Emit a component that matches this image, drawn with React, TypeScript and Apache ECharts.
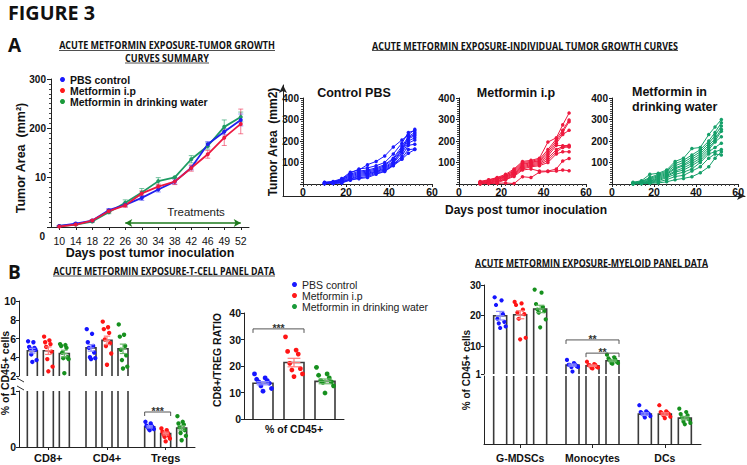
import React, { useEffect, useRef } from 'react';
import * as echarts from 'echarts';

const FF = "'Liberation Sans', Arial, Helvetica, sans-serif";
const TF = "'Open Sans', 'Noto Sans', sans-serif";

// ---------------- Panel A : summary growth curves ----------------
const GROUPS = ['PBS control', 'Metformin i.p', 'Metformin in drinking water'];
const DAYS = ['10', '14', '18', '22', '26', '30', '34', '38', '42', '46', '49', '52'];
const SEG_TICKS = [0, 10, 200, 300];
const PBS_MEAN = [0.2, 0.7, 1.3, 3.4, 4.5, 5.9, 7.6, 9.2, 48, 139, 187, 217];
const PBS_SEM = [0.1, 0.2, 0.2, 0.3, 0.4, 0.5, 0.5, 0.5, 8, 10, 12, 12];
const IP_MEAN = [0.1, 0.5, 1.3, 3.2, 4.4, 6.8, 8.2, 9.2, 47, 100, 164, 209];
const IP_SEM = [0.1, 0.1, 0.2, 0.3, 0.4, 0.5, 0.5, 0.6, 12, 15, 30, 30];
const WATER_MEAN = [0.2, 0.5, 1.1, 3.0, 4.9, 7.0, 9.3, 11.3, 81, 132, 203, 223];
const WATER_SEM = [0.1, 0.1, 0.2, 0.3, 0.6, 0.8, 0.8, 0.6, 14, 12, 14, 10];
const TREAT_START = '26';
const TREAT_END = '52';

// ---------------- Panel A : individual curves ----------------
const IND_DAYS = [10, 14, 18, 22, 26, 30, 34, 38, 42, 46, 49, 52];
const PBS_MICE = [
  [8, 12, 25, 55, 65, 90, 105, 130, 172, 205, 228, 254],
  [7, 10, 22, 50, 70, 75, 85, 100, 140, 190, 240, 248],
  [6, 9, 20, 45, 60, 65, 75, 90, 120, 175, 220, 240],
  [5, 8, 18, 40, 55, 60, 70, 85, 115, 165, 215, 232],
  [4, 7, 15, 35, 50, 55, 65, 80, 105, 160, 210, 225],
  [3, 6, 12, 30, 45, 50, 60, 75, 100, 155, 200, 215],
  [3, 5, 10, 25, 40, 45, 58, 70, 95, 145, 190, 205],
  [2, 4, 8, 22, 35, 40, 55, 65, 90, 130, 180, 185],
  [2, 3, 6, 20, 28, 35, 50, 60, 88, 120, 160, 163],
  [1, 2, 5, 18, 25, 30, 45, 58, 85, 115, 143, 160],
];
const IP_MICE = [
  [12, 20, 30, 45, 70, 105, 110, 120, 195, 215, 275, 330],
  [10, 18, 28, 40, 65, 100, 105, 115, 160, 210, 250, 298],
  [8, 15, 25, 38, 60, 95, 100, 110, 150, 200, 240, 290],
  [6, 12, 22, 35, 55, 90, 100, 105, 140, 190, 230, 250],
  [5, 10, 20, 32, 50, 85, 95, 100, 130, 180, 178, 180],
  [4, 8, 15, 30, 48, 80, 90, 95, 120, 160, 175, 176],
  [3, 6, 12, 25, 45, 75, 85, 90, 110, 150, 170, 172],
  [2, 5, 10, 22, 40, 70, 80, 85, 100, 140, 150, 150],
  [1, 3, 5, 20, 35, 65, 70, 60, 60, 70, 107, 119],
  [0, 2, 3, 5, 2, 34, 30, 55, 58, 60, 65, 62],
];
const WATER_MICE = [
  [8, 15, 45, 50, 65, 105, 120, 165, 170, 230, 265, 300],
  [6, 12, 30, 45, 60, 95, 110, 135, 160, 200, 240, 285],
  [5, 10, 25, 40, 55, 85, 100, 125, 150, 190, 225, 270],
  [4, 8, 20, 35, 50, 75, 90, 115, 140, 180, 210, 255],
  [3, 6, 15, 30, 45, 70, 85, 105, 130, 170, 200, 245],
  [2, 5, 12, 25, 40, 60, 75, 95, 120, 160, 195, 220],
  [2, 4, 10, 20, 35, 55, 65, 85, 110, 150, 170, 190],
  [1, 3, 8, 15, 30, 45, 55, 70, 100, 140, 150, 160],
  [1, 2, 5, 10, 20, 35, 40, 60, 80, 120, 140, 135],
  [0, 1, 3, 5, 10, 20, 26, 34, 52, 80, 120, 150],
];

// ---------------- Panel B : T-cell panel ----------------
const TCELL_CATS = ['CD8+', 'CD4+', 'Tregs'];
const TCELL_PBS_MEAN = [4.7, 5.0, 0.36];
const TCELL_IP_MEAN = [4.7, 5.8, 0.24];
const TCELL_WATER_MEAN = [4.4, 4.9, 0.34];
const TCELL_PBS_SEM = [0.25, 0.35, 0.02];
const TCELL_IP_SEM = [0.4, 0.45, 0.025];
const TCELL_WATER_SEM = [0.35, 0.5, 0.04];
const TCELL_PBS_DOTS = [
  [5.7, 5.6, 5.1, 5.0, 4.9, 4.8, 4.3, 3.7, 3.5],
  [7.0, 6.5, 5.6, 5.2, 5.0, 4.5, 4.0, 3.9, 3.8],
  [0.45, 0.42, 0.38, 0.37, 0.36, 0.35, 0.33, 0.32, 0.3],
];
const TCELL_IP_DOTS = [
  [6.2, 5.8, 5.6, 5.4, 5.1, 4.6, 3.8, 3.0, 2.5],
  [7.8, 7.2, 7.0, 6.6, 5.9, 5.5, 5.2, 4.4, 3.2],
  [0.33, 0.3, 0.27, 0.25, 0.22, 0.2, 0.18, 0.15, 0.1],
];
const TCELL_WATER_DOTS = [
  [5.4, 5.3, 5.2, 5.0, 4.5, 4.0, 3.9, 3.8, 2.3],
  [7.5, 6.4, 6.2, 5.2, 4.8, 4.2, 3.7, 3.0, 2.8],
  [0.55, 0.45, 0.42, 0.4, 0.35, 0.3, 0.25, 0.2, 0.12],
];
const TCELL_SIG = [[2, 0, 2, 1, 0.625]];
const TCELL_SIG_TEXT = ['***'];

// ---------------- Panel B : CD8/Treg ratio ----------------
const RATIO_CATS = ['% of CD45+'];
const RATIO_PBS_MEAN = [13.5];
const RATIO_IP_MEAN = [21.3];
const RATIO_WATER_MEAN = [14.2];
const RATIO_PBS_SEM = [0.6];
const RATIO_IP_SEM = [1.6];
const RATIO_WATER_SEM = [0.9];
const RATIO_PBS_DOTS = [[17, 15.5, 15, 14.5, 14, 13.5, 12.5, 11.5, 10.5]];
const RATIO_IP_DOTS = [[31, 26, 25.5, 24.5, 21, 19, 18.5, 17, 16]];
const RATIO_WATER_DOTS = [[19.5, 17, 16.5, 15.5, 14.5, 14, 13.8, 12.5, 9.8]];
const RATIO_SIG = [[0, 0, 0, 1, 34]];
const RATIO_SIG_TEXT = ['***'];

// ---------------- Panel B : myeloid panel ----------------
const MYE_CATS = ['G-MDSCs', 'Monocytes', 'DCs'];
const MYE_TICKS = [1, 10, 20, 30];
const MYE_PBS_MEAN = [20.0, 3.9, 0.44];
const MYE_IP_MEAN = [20.3, 3.7, 0.44];
const MYE_WATER_MEAN = [22.2, 5.3, 0.38];
const MYE_PBS_SEM = [1.4, 0.35, 0.02];
const MYE_IP_SEM = [1.3, 0.25, 0.02];
const MYE_WATER_SEM = [1.2, 0.3, 0.025];
const MYE_PBS_DOTS = [
  [26, 25, 23.5, 20.5, 19, 18, 17.5, 16.5, 16],
  [5.6, 4.8, 4.4, 4.1, 4.0, 3.8, 3.6, 3.3, 1.8],
  [0.57, 0.48, 0.47, 0.46, 0.45, 0.44, 0.43, 0.41, 0.39],
];
const MYE_IP_DOTS = [
  [24.5, 24, 23.5, 22, 21, 20.5, 19, 12.8, 12.3],
  [5.0, 4.6, 4.3, 4.0, 3.8, 3.6, 3.4, 3.1, 2.8],
  [0.57, 0.48, 0.47, 0.46, 0.45, 0.44, 0.42, 0.4, 0.38],
];
const MYE_WATER_DOTS = [
  [28.5, 27.5, 23.8, 22.8, 22, 21.5, 21, 18.8, 16.2],
  [7.3, 6.8, 6.3, 5.8, 5.5, 5.2, 4.9, 4.6, 4.4],
  [0.52, 0.47, 0.44, 0.42, 0.39, 0.36, 0.33, 0.31, 0.29],
];
const MYE_SIG = [[1, 0, 1, 2, 12.1], [1, 1, 1, 2, 7.8]];
const MYE_SIG_TEXT = ['**', '**'];

// ---------------- styles ----------------
const A_COLORS = ['#1f1fef', '#ec1840', '#1e9b63'];
const A_ERR = ['rgba(70,70,240,0.6)', 'rgba(236,24,64,0.55)', 'rgba(30,155,99,0.6)'];
const IND_COLORS = ['#1a1aff', '#ee1a3f', '#16a06a'];
const LEG_COLORS = ['#1a1aff', '#ff1a1a', '#1a9a3a'];
const B_COLORS = ['#1515ff', '#ff1515', '#16901e'];
const B_ERR = ['#8c8cff', '#ff7a7a', '#6ab86a'];

function toSeg(v: number): number {
  for (let i = 0; i < SEG_TICKS.length - 1; i++) {
    if (v <= SEG_TICKS[i + 1]) return i + (v - SEG_TICKS[i]) / (SEG_TICKS[i + 1] - SEG_TICKS[i]);
  }
  return SEG_TICKS.length - 1;
}

function measure(text: string, font: string): number {
  const ctx = document.createElement('canvas').getContext('2d');
  if (!ctx) return text.length * 6;
  ctx.font = font;
  return ctx.measureText(text).width || text.length * 6;
}

const ln = (x1: number, y1: number, x2: number, y2: number, stroke: string, w = 1) => ({
  type: 'line', shape: { x1, y1, x2, y2 }, style: { stroke, lineWidth: w },
});

function txt(text: string, x: number, y: number, size: number, o: any = {}) {
  const align = o.align || 'center';
  return {
    type: 'text', x, y, rotation: o.rotation || 0, scaleX: o.scaleX || 1, z: 100, silent: true,
    style: {
      text, fontFamily: o.family || FF, fontSize: size, fontWeight: o.weight || 'bold',
      fill: o.fill || '#111', textAlign: align, textVerticalAlign: 'middle', align, verticalAlign: 'middle',
    },
  };
}

function fitted(text: string, x: number, y: number, w: number, size: number, ul: number | null, align = 'center') {
  const nat = measure(text, `bold ${size}px ${TF}`);
  const els: any[] = [txt(text, x, y, size, { family: TF, scaleX: w / nat, align })];
  if (ul != null) {
    const x1 = align === 'center' ? x - w / 2 : x;
    els.push({ type: 'line', z: 100, silent: true, shape: { x1, y1: ul, x2: x1 + w, y2: ul }, style: { stroke: '#222', lineWidth: 0.8 } });
  }
  return els;
}

// ---------- custom renderers ----------
function segErrRenderer(color: string) {
  return (params: any, api: any) => {
    const i = api.value(0);
    const lo = api.coord([i, api.value(1)]);
    const hi = api.coord([i, api.value(2)]);
    const c = 2.5;
    return {
      type: 'group',
      children: [ln(lo[0], lo[1], hi[0], hi[1], color), ln(lo[0] - c, lo[1], lo[0] + c, lo[1], color), ln(hi[0] - c, hi[1], hi[0] + c, hi[1], color)],
    };
  };
}

type BarLayout = { offsets: number[]; width: number; r: number };
const OUT = '#3a3a3a';

function barRenderer(L: BarLayout, g: number) {
  return (params: any, api: any) => {
    const cs = params.coordSys;
    const cat = api.value(0);
    const p = api.coord([cat, api.value(1)]);
    const b = api.coord([cat, 0]);
    const yMin = cs.y, yMax = cs.y + cs.height;
    if (p[1] >= yMax - 0.01) return null;
    const cx = p[0] + L.offsets[g];
    const l = cx - L.width / 2, r = cx + L.width / 2;
    const top = Math.max(p[1], yMin);
    const bot = Math.min(b[1], yMax);
    const clipped = p[1] < yMin;
    const children: any[] = [{ type: 'rect', shape: { x: l, y: top, width: L.width, height: bot - top }, style: { fill: '#fff' } }];
    if (clipped) {
      children.push(ln(l, top, l, bot, OUT, 1.6), ln(r, top, r, bot, OUT, 1.6));
    } else {
      children.push({ type: 'polyline', shape: { points: [[l, bot], [l, top], [r, top], [r, bot]] }, style: { stroke: OUT, lineWidth: 1.6, fill: 'none' } });
    }
    return { type: 'group', children };
  };
}

function dotRenderer(L: BarLayout, g: number, color: string) {
  return (params: any, api: any) => {
    const cs = params.coordSys;
    const p = api.coord([api.value(0), api.value(1)]);
    if (p[1] < cs.y - 0.5 || p[1] > cs.y + cs.height + 0.5) return null;
    const k = api.value(2);
    const jitter = (((k * 5) % 9) / 8 - 0.5) * L.width * 0.85;
    return { type: 'circle', shape: { cx: p[0] + L.offsets[g] + jitter, cy: p[1], r: L.r }, style: { fill: color } };
  };
}

function errRenderer(L: BarLayout, g: number, color: string) {
  return (params: any, api: any) => {
    const cs = params.coordSys;
    const cat = api.value(0), m = api.value(1), e = api.value(2);
    const pm = api.coord([cat, m]);
    if (pm[1] < cs.y || pm[1] > cs.y + cs.height) return null;
    const ph = api.coord([cat, m + e]);
    const pl = api.coord([cat, m - e]);
    const cx = pm[0] + L.offsets[g];
    const c = L.width * 0.32;
    return {
      type: 'group',
      children: [ln(cx, pl[1], cx, ph[1], color, 1.2), ln(cx - c, ph[1], cx + c, ph[1], color, 1.2), ln(cx - c, pl[1], cx + c, pl[1], color, 1.2), ln(cx - c, pm[1], cx + c, pm[1], color, 1.2)],
    };
  };
}

function bracketRenderer(L: BarLayout, texts: string[]) {
  return (params: any, api: any) => {
    const a = api.coord([api.value(0), api.value(4)]);
    const b = api.coord([api.value(2), api.value(4)]);
    const x1 = a[0] + L.offsets[api.value(1)] - L.width / 2;
    const x2 = b[0] + L.offsets[api.value(3)] + L.width / 2;
    const y = a[1];
    return {
      type: 'group',
      children: [
        { type: 'polyline', shape: { points: [[x1, y + 4], [x1, y], [x2, y], [x2, y + 4]] }, style: { stroke: '#555', lineWidth: 1, fill: 'none' } },
        {
          type: 'text', x: (x1 + x2) / 2, y: y - 1,
          style: { text: texts[params.dataIndex], fill: '#333', fontSize: 10.5, fontWeight: 'bold', fontFamily: FF, textAlign: 'center', textVerticalAlign: 'middle', align: 'center', verticalAlign: 'middle' },
        },
      ],
    };
  };
}

function addBarGroups(series: any[], L: BarLayout, axisIdx: number[], means: number[][], sems: number[][], dots: number[][][], sig: number[][] | null, sigText: string[], sigAxis: number) {
  axisIdx.forEach((ai) => {
    for (let g = 0; g < 3; g++) {
      series.push({
        type: 'custom', xAxisIndex: ai, yAxisIndex: ai, renderItem: barRenderer(L, g), z: 2, silent: true,
        encode: { x: 0, y: 1 }, data: means[g].map((m, i) => [i, m]),
      });
    }
    for (let g = 0; g < 3; g++) {
      const d: number[][] = [];
      dots[g].forEach((arr, i) => arr.forEach((v, k) => d.push([i, v, k])));
      series.push({
        type: 'custom', name: GROUPS[g], xAxisIndex: ai, yAxisIndex: ai, renderItem: dotRenderer(L, g, B_COLORS[g]), z: 3, silent: true,
        encode: { x: 0, y: 1 }, data: d,
      });
    }
    for (let g = 0; g < 3; g++) {
      series.push({
        type: 'custom', xAxisIndex: ai, yAxisIndex: ai, renderItem: errRenderer(L, g, B_ERR[g]), z: 4, silent: true,
        encode: { x: 0, y: 1 }, data: means[g].map((m, i) => [i, m, sems[g][i]]),
      });
    }
    if (sig && ai === sigAxis) {
      series.push({
        type: 'custom', xAxisIndex: ai, yAxisIndex: ai, renderItem: bracketRenderer(L, sigText), z: 5, silent: true,
        encode: { x: 0, y: 4 }, data: sig,
      });
    }
  });
}

function buildOption(): any {
  const AX = { show: true, lineStyle: { color: '#222', width: 1 } };
  const lab = (size: number, extra: any = {}) => ({ fontFamily: FF, fontWeight: 'bold', fontSize: size, color: '#111', ...extra });
  const noSplit = { show: false };

  const grid = [
    { left: 51, top: 79, width: 198, height: 148 },
    { left: 303, top: 98, width: 129, height: 86 },
    { left: 459, top: 98, width: 127, height: 86 },
    { left: 612, top: 98, width: 128, height: 86 },
    { left: 283, top: 85, width: 462, height: 111 },
    { left: 19, top: 301, width: 176, height: 75 },
    { left: 19, top: 391, width: 176, height: 56 },
    { left: 244, top: 313, width: 100, height: 106 },
    { left: 484, top: 285, width: 217, height: 89 },
    { left: 484, top: 376, width: 217, height: 68 },
  ];

  const indX = (gi: number) => ({
    type: 'value', gridIndex: gi, min: 0, max: 60, interval: 20, axisLine: AX,
    axisTick: { show: true, length: 3, lineStyle: { color: '#222' } },
    minorTick: { show: true, splitNumber: 10, length: 2, lineStyle: { color: '#444' } },
    axisLabel: lab(10.5, { margin: 2 }), splitLine: noSplit, minorSplitLine: noSplit,
  });
  const indY = (gi: number) => ({
    type: 'value', gridIndex: gi, min: 0, max: 400, interval: 100, axisLine: AX,
    axisTick: { show: true, length: 3, lineStyle: { color: '#222' } },
    minorTick: { show: true, splitNumber: 10, length: 2, lineStyle: { color: '#444' } },
    axisLabel: lab(10, { margin: 4, formatter: (v: number) => (v === 0 ? '' : String(v)) }), splitLine: noSplit,
  });
  const hiddenCat = (gi: number, data: string[]) => ({ type: 'category', gridIndex: gi, data, show: false });
  const catAx = (gi: number, data: string[], size: number, margin: number, tickLen: number) => ({
    type: 'category', gridIndex: gi, data, axisLine: AX,
    axisTick: { show: tickLen > 0, alignWithLabel: true, length: tickLen, lineStyle: { color: '#222' } },
    axisLabel: lab(size, { margin, interval: 0 }), splitLine: noSplit,
  });
  const valAx = (gi: number, min: number, max: number, interval: number, size: number) => ({
    type: 'value', gridIndex: gi, min, max, interval, axisLine: AX,
    axisTick: { show: true, length: 3, lineStyle: { color: '#222' } },
    axisLabel: lab(size, { margin: 3 }), splitLine: noSplit,
  });
  const frame = (gi: number) => ({
    type: 'value', gridIndex: gi, min: 0, max: 1,
    axisLine: { show: true, symbol: ['none', 'arrow'], symbolSize: [6, 8], lineStyle: { color: '#222', width: 1 } },
    axisTick: { show: false }, axisLabel: { show: false }, splitLine: noSplit,
  });

  const xAxis = [
    {
      type: 'category', gridIndex: 0, data: DAYS, boundaryGap: true, axisLine: AX,
      axisTick: { show: true, alignWithLabel: true, length: 3, lineStyle: { color: '#222' } },
      axisLabel: { fontFamily: FF, fontSize: 10.5, color: '#111', margin: 8, interval: 0 }, splitLine: noSplit,
    },
    indX(1), indX(2), indX(3), frame(4),
    hiddenCat(5, TCELL_CATS), catAx(6, TCELL_CATS, 11, 5, 3),
    catAx(7, RATIO_CATS, 10.5, 4, 0),
    hiddenCat(8, MYE_CATS), catAx(9, MYE_CATS, 10.5, 8, 4),
  ];
  const yAxis = [
    {
      type: 'value', gridIndex: 0, min: 0, max: SEG_TICKS.length - 1, interval: 1, axisLine: AX,
      axisTick: { show: true, length: 4, lineStyle: { color: '#222' } },
      minorTick: { show: true, splitNumber: 10, length: 2, lineStyle: { color: '#444' } },
      axisLabel: lab(10, { margin: 5, formatter: (v: number) => (v === 0 ? '' : String(SEG_TICKS[Math.round(v)])) }),
      splitLine: noSplit, minorSplitLine: noSplit,
    },
    indY(1), indY(2), indY(3), frame(4),
    valAx(5, 2, 10, 2, 10.5), valAx(6, 0, 1, 1, 10.5),
    valAx(7, 0, 40, 10, 10.5),
    {
      type: 'value', gridIndex: 8, min: 1, max: 30, axisLine: AX,
      axisTick: { show: true, length: 3, customValues: MYE_TICKS, lineStyle: { color: '#222' } },
      axisLabel: lab(10, { margin: 3, customValues: MYE_TICKS }), splitLine: noSplit,
    },
    { type: 'value', gridIndex: 9, min: 0, max: 1, axisLine: AX, axisTick: { show: false }, axisLabel: { show: false }, splitLine: noSplit },
  ];

  const series: any[] = [];
  const A_MEANS = [PBS_MEAN, IP_MEAN, WATER_MEAN];
  const A_SEMS = [PBS_SEM, IP_SEM, WATER_SEM];
  const order = [2, 0, 1];
  order.forEach((g) => {
    series.push({
      type: 'custom', xAxisIndex: 0, yAxisIndex: 0, renderItem: segErrRenderer(A_ERR[g]), z: 2, silent: true,
      encode: { x: 0, y: [1, 2] },
      data: A_MEANS[g].map((m, i) => [i, toSeg(Math.max(0, m - A_SEMS[g][i])), toSeg(m + A_SEMS[g][i])]),
    });
  });
  order.forEach((g, n) => {
    const s: any = {
      type: 'line', name: GROUPS[g], xAxisIndex: 0, yAxisIndex: 0, data: A_MEANS[g].map(toSeg),
      symbol: 'circle', symbolSize: 4, lineStyle: { width: 1.8, color: A_COLORS[g] }, itemStyle: { color: A_COLORS[g] }, z: 3, silent: true,
    };
    if (n === 0) {
      s.markLine = {
        silent: true, symbol: ['arrow', 'arrow'], symbolSize: [6, 7],
        lineStyle: { color: '#1d7a1d', width: 1.5, type: 'solid' }, label: { show: false },
        data: [[{ coord: [TREAT_START, 0.08] }, { coord: [TREAT_END, 0.08] }]],
      };
    }
    series.push(s);
  });

  [PBS_MICE, IP_MICE, WATER_MICE].forEach((mice, g) => {
    mice.forEach((row, k) => {
      series.push({
        type: 'line', name: `${GROUPS[g]} #${k + 1}`, xAxisIndex: g + 1, yAxisIndex: g + 1,
        data: IND_DAYS.map((d, i) => [d, row[i]]), symbol: 'circle', symbolSize: 3.5, silent: true,
        lineStyle: { width: 1, color: IND_COLORS[g] }, itemStyle: { color: IND_COLORS[g] }, z: 3,
      });
    });
  });

  addBarGroups(series, { offsets: [-16, 0, 16], width: 10, r: 2.2 }, [5, 6],
    [TCELL_PBS_MEAN, TCELL_IP_MEAN, TCELL_WATER_MEAN], [TCELL_PBS_SEM, TCELL_IP_SEM, TCELL_WATER_SEM],
    [TCELL_PBS_DOTS, TCELL_IP_DOTS, TCELL_WATER_DOTS], TCELL_SIG, TCELL_SIG_TEXT, 6);
  addBarGroups(series, { offsets: [-31, 0, 31], width: 20, r: 2.4 }, [7],
    [RATIO_PBS_MEAN, RATIO_IP_MEAN, RATIO_WATER_MEAN], [RATIO_PBS_SEM, RATIO_IP_SEM, RATIO_WATER_SEM],
    [RATIO_PBS_DOTS, RATIO_IP_DOTS, RATIO_WATER_DOTS], RATIO_SIG, RATIO_SIG_TEXT, 7);
  addBarGroups(series, { offsets: [-20, 0, 20], width: 13, r: 2.1 }, [8, 9],
    [MYE_PBS_MEAN, MYE_IP_MEAN, MYE_WATER_MEAN], [MYE_PBS_SEM, MYE_IP_SEM, MYE_WATER_SEM],
    [MYE_PBS_DOTS, MYE_IP_DOTS, MYE_WATER_DOTS], MYE_SIG, MYE_SIG_TEXT, 8);

  const legendBase = { orient: 'vertical', itemWidth: 5, itemHeight: 5, itemGap: 0, icon: 'circle', padding: 0, selectedMode: false };
  const legend = [
    {
      ...legendBase, left: 60, top: 74,
      textStyle: { fontFamily: FF, fontWeight: 'bold', fontSize: 10.5, color: '#111', lineHeight: 10 },
      data: GROUPS.map((n, i) => ({ name: n, itemStyle: { color: LEG_COLORS[i] } })),
    },
    {
      ...legendBase, left: 292, top: 279,
      textStyle: { fontFamily: FF, fontSize: 10.5, color: '#222', lineHeight: 11 },
      data: GROUPS.map((n, i) => ({ name: n, itemStyle: { color: LEG_COLORS[i] } })),
    },
  ];

  const R = Math.PI / 2;
  const graphic = [
    ...fitted('FIGURE 3', 8, 12.5, 87, 20, null, 'left'),
    txt('A', 8, 45, 19, { family: TF, align: 'left' }),
    txt('B', 8, 272, 19, { family: TF, align: 'left' }),
    ...fitted('ACUTE METFORMIN EXPOSURE-TUMOR GROWTH', 167, 45.5, 216, 10.5, 50.5),
    ...fitted('CURVES SUMMARY', 167, 58.5, 84, 10.5, 63),
    ...fitted('ACUTE METFORMIN EXPOSURE-INDIVIDUAL TUMOR GROWTH CURVES', 525, 46, 306, 10.5, 50.5),
    ...fitted('ACUTE METFORMIN EXPOSURE-T-CELL PANEL DATA', 164, 271.5, 222, 10.5, 276),
    ...fitted('ACUTE METFORMIN EXPOSURE-MYELOID PANEL DATA', 591.5, 263, 233, 10.5, 267.5),
    txt('Tumor Area  (mm²)', 21, 158, 12.5, { rotation: R }),
    txt('Days post tumor inoculation', 150, 253, 12.5),
    txt('0', 45, 236, 10, { align: 'right' }),
    txt('Treatments', 196, 212, 11.5, { weight: 'normal', fill: '#222' }),
    txt('Tumor Area  (mm2)', 273, 142, 12, { rotation: R }),
    txt('Days post tumor inoculation', 526, 210, 12),
    txt('Control PBS', 354, 93, 12.5),
    txt('Metformin i.p', 516, 93, 12.5),
    txt('Metformin in', 632, 92, 12.5, { align: 'left' }),
    txt('drinking water', 632, 107, 12.5, { align: 'left' }),
    txt('% of CD45+ cells', 5, 373, 10.5, { rotation: R }),
    txt('CD8+/TREG RATIO', 217, 360, 10.5, { rotation: R }),
    txt('% of CD45+ cells', 466, 370, 10, { rotation: R }),
    { type: 'line', silent: true, z: 100, shape: { x1: 17, y1: 378, x2: 24, y2: 382 }, style: { stroke: '#333', lineWidth: 1 } },
    { type: 'line', silent: true, z: 100, shape: { x1: 17, y1: 386, x2: 24, y2: 390 }, style: { stroke: '#333', lineWidth: 1 } },
  ];

  return {
    animation: false,
    backgroundColor: '#fff',
    textStyle: { fontFamily: FF },
    grid, xAxis, yAxis, series, legend, graphic,
  };
}

export default function App() {
  const ref = useRef<HTMLDivElement>(null);
  useEffect(() => {
    if (!ref.current) return;
    const chart = echarts.init(ref.current, undefined, { renderer: 'svg' });
    chart.setOption(buildOption());
    return () => chart.dispose();
  }, []);
  return <div ref={ref} style={{ position: 'absolute', left: 0, top: 0, width: 747, height: 465, background: '#fff' }} />;
}
